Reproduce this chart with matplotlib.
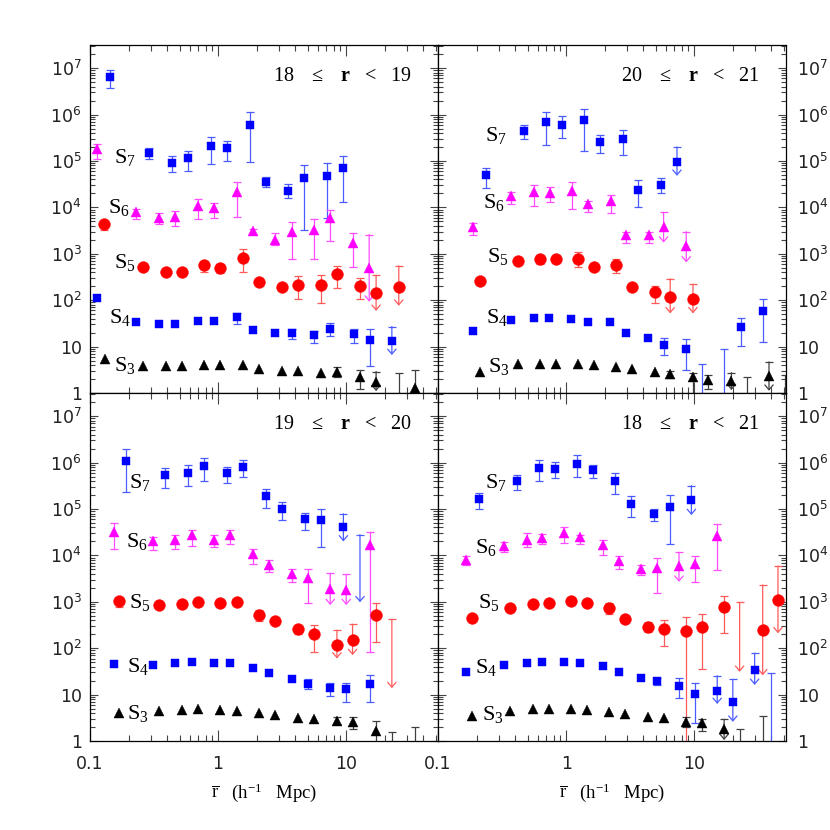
import numpy as np
import matplotlib as mpl
mpl.use('Agg')
import matplotlib.pyplot as plt
import matplotlib.ticker as ticker

N = float('nan')

######################
## data: S_n vs rbar, one block per magnitude slice
## hi/lo are error bar ends, lim = indexes of upper limits
######################

# 18 <= r < 19
s7_1819_x = [0.143, 0.289, 0.44, 0.58, 0.88, 1.18, 1.76, 2.35, 3.52, 4.72, 7.1, 9.5]
s7_1819_y = [6.3e6, 1.48e5, 9.1e4, 1.15e5, 2.1e5, 1.86e5, 6.0e5, 3.6e4, 2.3e4, 4.4e4, 4.8e4, 6.9e4]
s7_1819_hi = [9.1e6, 1.86e5, 1.29e5, 1.66e5, 3.3e5, 2.75e5, 1.12e6, 4.6e4, 3.2e4, 8.3e4, 9.1e4, 1.29e5]
s7_1819_lo = [3.7e6, 1.1e5, 5.8e4, 6.0e4, 8.7e4, 9.8e4, 9.5e4, 2.8e4, 1.6e4, 3.2e3, 5.9e3, 1.29e4]
s7_1819_lim = []

s6_1819_x = [0.114, 0.229, 0.346, 0.461, 0.694, 0.93, 1.40, 1.875, 2.80, 3.77, 5.62, 7.5, 11.3, 15.1]
s6_1819_y = [1.78e5, 7.9e3, 6.0e3, 6.3e3, 1.07e4, 9.8e3, 2.2e4, 3.1e3, 2.0e3, 3.0e3, 3.3e3, 5.9e3, 1.74e3, 5.0e2]
s6_1819_hi = [2.3e5, 9.3e3, 7.6e3, 8.5e3, 1.48e4, 1.26e4, 3.6e4, 3.5e3, 2.75e3, 4.9e3, 5.5e3, 8.7e3, 2.75e3, 2.6e3]
s6_1819_lo = [1.1e5, 5.6e3, 4.4e3, 3.9e3, 5.6e3, 5.9e3, 6.3e3, 2.7e3, 1.55e3, 7.6e2, 7.9e2, 1.9e3, 5.2e2, 93]
s6_1819_lim = [13]

s5_1819_x = [0.129, 0.26, 0.39, 0.52, 0.777, 1.04, 1.57, 2.09, 3.16, 4.22, 6.34, 8.46, 12.8, 17.1, 25.7]
s5_1819_y = [4.4e3, 525, 410, 410, 575, 500, 830, 250, 195, 215, 215, 365, 205, 140, 195]
s5_1819_hi = [5.2e3, N, N, N, 675, 615, 1.26e3, N, N, 325, 345, 550, 300, 345, 550]
s5_1819_lo = [3.2e3, N, N, N, 410, 380, 400, N, N, 105, 89, 180, 105, 59, 76]
s5_1819_lim = [13, 14]

s4_1819_x = [0.114, 0.23, 0.346, 0.461, 0.70, 0.93, 1.40, 1.87, 2.80, 3.77, 5.64, 7.5, 11.4, 15.2, 22.7]
s4_1819_y = [110, 34.5, 31, 30, 36, 35, 43, 23, 19.4, 19.4, 17.5, 24.3, 18.3, 14, 13.2]
s4_1819_hi = [N, N, N, N, N, N, 54, N, N, 24.5, 22, 33, 24, 24, 27]
s4_1819_lo = [N, N, N, N, N, N, 31, N, N, 14.5, 12, 17, 11.7, 3.8, 6.6]
s4_1819_lim = [14]

s3_1819_x = [0.13, 0.26, 0.39, 0.52, 0.777, 1.04, 1.57, 2.09, 3.16, 4.22, 6.34, 8.46, 12.8, 17.1, 25.7, 34.4]
s3_1819_y = [5.3, 3.9, 3.8, 3.9, 4.0, 4.0, 4.0, 3.3, 3.0, 3.0, 2.75, 2.9, 2.25, 1.75, N, 1.3]
s3_1819_hi = [N, N, N, N, N, N, N, N, N, N, N, 3.55, 3.16, 2.9, 2.75, 3.2]
s3_1819_lo = [N, N, N, N, N, N, N, N, N, N, N, 2.24, 1.22, 1.1, 0.5, 0.5]
s3_1819_lim = [13]

# 20 <= r < 21
s7_2021_x = [0.237, 0.472, 0.70, 0.935, 1.39, 1.85, 2.76, 3.67, 5.5, 7.33]
s7_2021_y = [5.0e4, 4.5e5, 6.8e5, 6.0e5, 7.6e5, 2.6e5, 3.0e5, 2.4e4, 3.1e4, 9.5e4]
s7_2021_hi = [7.2e4, 6.0e5, 1.15e6, 9.1e5, 1.35e6, 3.7e5, 4.7e5, 3.9e4, 4.3e4, 2.0e5]
s7_2021_lo = [2.6e4, 3.0e5, 2.2e5, 3.2e5, 1.66e5, 1.48e5, 1.35e5, 1.0e4, 2.0e4, 4.8e4]
s7_2021_lim = [9]

s6_2021_x = [0.1875, 0.374, 0.56, 0.746, 1.11, 1.48, 2.22, 2.94, 4.40, 5.76, 8.66]
s6_2021_y = [3.7e3, 1.78e4, 2.2e4, 2.0e4, 2.3e4, 1.17e4, 1.38e4, 2.6e3, 2.6e3, 3.8e3, 1.48e3]
s6_2021_hi = [4.7e3, 2.1e4, 3.0e4, 2.7e4, 3.5e4, 1.38e4, 1.86e4, 3.0e3, 3.0e3, 7.8e3, 3.0e3]
s6_2021_lo = [2.6e3, 1.17e4, 1.05e4, 1.29e4, 9.1e3, 7.8e3, 7.4e3, 1.7e3, 1.7e3, 1.74e3, 650]
s6_2021_lim = [9, 10]

s5_2021_x = [0.212, 0.42, 0.62, 0.83, 1.24, 1.64, 2.47, 3.28, 4.93, 6.49, 9.77]
s5_2021_y = [265, 710, 760, 760, 780, 525, 560, 190, 148, 120, 107]
s5_2021_hi = [N, N, 930, N, 1.12e3, N, 760, N, 205, 290, 220]
s5_2021_lo = [N, N, 590, N, 525, N, 380, N, 85, 52, 52]
s5_2021_lim = [9, 10]

s4_2021_x = [0.1875, 0.374, 0.56, 0.74, 1.10, 1.48, 2.21, 2.94, 4.38, 5.84, 8.66, 11.5, 17.1, 23, 34.4]
s4_2021_y = [22, 38, 40.7, 40.7, 40, 34, 34.5, 19.4, 15, 10.8, 8.7, N, N, 26, 59]
s4_2021_hi = [N, N, N, N, N, N, N, N, N, 15, 14.5, 4.2, 8.9, 41, 107]
s4_2021_lo = [N, N, N, N, N, N, N, N, N, 6.6, 3.2, 0.5, 0.5, 10.5, 12.3]
s4_2021_lim = []

s3_2021_x = [0.212, 0.42, 0.62, 0.83, 1.24, 1.64, 2.47, 3.28, 4.93, 6.49, 9.77, 12.9, 19.5, 25.7, 38.3, 50.7]
s3_2021_y = [2.9, 4.2, 4.2, 4.3, 4.2, 3.95, 3.7, 3.24, 2.8, 2.57, 2.2, 1.9, 1.8, N, 2.3, N]
s3_2021_hi = [N, N, N, N, N, N, N, N, N, 2.95, 2.75, 2.5, 2.75, 2.18, 4.7, 2.45]
s3_2021_lo = [N, N, N, N, N, N, N, N, N, 2.1, 0.5, 1.23, 1.16, 0.5, 1.12, 0.5]
s3_2021_lim = [12, 14]

# 19 <= r < 20
s7_1920_x = [0.192, 0.387, 0.583, 0.777, 1.175, 1.57, 2.35, 3.14, 4.76, 6.34, 9.5, 12.8]
s7_1920_y = [1.07e6, 5.4e5, 6.0e5, 8.3e5, 6.0e5, 8.0e5, 1.9e5, 9.8e4, 6.0e4, 5.8e4, 4.0e4, N]
s7_1920_hi = [1.95e6, 7.8e5, 8.7e5, 1.26e6, 8.1e5, 1.15e6, 2.75e5, 1.45e5, 8.3e4, 9.8e4, 7.9e4, 2.8e4]
s7_1920_lo = [2.3e5, 2.8e5, 3.2e5, 4.1e5, 3.6e5, 4.8e5, 1.05e5, 5.8e4, 3.5e4, 1.5e4, 2.0e4, 980]
s7_1920_lim = [10, 11]

s6_1920_x = [0.154, 0.308, 0.461, 0.62, 0.93, 1.24, 1.87, 2.5, 3.77, 5.0, 7.5, 10.0, 15.2]
s6_1920_y = [3.2e4, 2.0e4, 2.1e4, 2.75e4, 2.2e4, 2.75e4, 1.05e4, 6.2e3, 4.0e3, 3.2e3, 1.9e3, 1.8e3, 1.66e4]
s6_1920_hi = [4.9e4, 2.45e4, 2.8e4, 3.6e4, 2.8e4, 3.5e4, 1.35e4, 7.8e3, 5.1e3, 5.1e3, 4.1e3, 3.9e3, 3.2e4]
s6_1920_lo = [1.35e4, 1.29e4, 1.38e4, 1.62e4, 1.5e4, 1.78e4, 6.5e3, 4.4e3, 2.7e3, 930, 850, 850, 83]
s6_1920_lim = [10, 11]

s5_1920_x = [0.169, 0.346, 0.52, 0.70, 1.04, 1.40, 2.09, 2.80, 4.22, 5.62, 8.46, 11.2, 17.1, 22.7]
s5_1920_y = [1.05e3, 850, 890, 1.0e3, 930, 1.0e3, 525, 390, 257, 200, 120, 151, 525, N]
s5_1920_hi = [1.29e3, N, N, N, N, N, 660, N, 316, 316, 245, 330, 930, 420]
s5_1920_lo = [760, N, N, N, N, N, 390, N, 205, 81, 60, 71, 138, 13.8]
s5_1920_lim = [10, 11, 13]

s4_1920_x = [0.154, 0.308, 0.461, 0.62, 0.93, 1.24, 1.87, 2.49, 3.77, 5.0, 7.5, 10.0, 15.2]
s4_1920_y = [46, 44, 48, 50, 49, 49, 37, 29, 21.4, 17, 13.7, 13, 16.6]
s4_1920_hi = [N, N, N, N, N, N, N, N, N, 21.4, 18.2, 18.2, 27]
s4_1920_lo = [N, N, N, N, N, N, N, N, N, 12.9, 9.3, 6.9, 6.9]
s4_1920_lim = []

s3_1920_x = [0.169, 0.346, 0.52, 0.70, 1.04, 1.40, 2.09, 2.80, 4.22, 5.62, 8.46, 11.2, 17.1, 22.7, 34.7]
s3_1920_y = [4.07, 4.4, 4.6, 4.8, 4.7, 4.4, 3.95, 3.63, 3.18, 3.0, 2.7, 2.6, 1.67, N, N]
s3_1920_hi = [N, N, N, N, N, N, N, N, N, N, 3.25, 3.3, 2.7, 1.54, 2.0]
s3_1920_lo = [N, N, N, N, N, N, N, N, N, N, 2.3, 1.86, 0.5, 0.5, 0.5]
s3_1920_lim = []

# 18 <= r < 21
s7_1821_x = [0.208, 0.412, 0.616, 0.824, 1.22, 1.62, 2.42, 3.22, 4.83, 6.43, 9.5]
s7_1821_y = [1.62e5, 4.1e5, 7.6e5, 7.2e5, 9.5e5, 6.9e5, 4.0e5, 1.29e5, 7.8e4, 1.1e5, 1.55e5]
s7_1821_hi = [2.2e5, 5.5e5, 1.12e6, 1.02e6, 1.45e6, 9.1e5, 5.9e5, 1.95e5, 1.0e5, 2.0e5, 3.2e5]
s7_1821_lo = [1.02e5, 2.6e5, 4.0e5, 4.7e5, 5.0e5, 4.7e5, 2.1e5, 6.8e4, 5.4e4, 1.8e4, 7.4e4]
s7_1821_lim = [10]

s6_1821_x = [0.165, 0.328, 0.494, 0.654, 0.97, 1.29, 1.93, 2.58, 3.81, 5.1, 7.6, 10.2, 15.1]
s6_1821_y = [7.8e3, 1.58e4, 2.2e4, 2.4e4, 3.0e4, 2.5e4, 1.66e4, 7.4e3, 5.0e3, 5.4e3, 5.8e3, 6.5e3, 2.6e4]
s6_1821_hi = [9.8e3, 1.9e4, 3.1e4, 2.9e4, 4.0e4, 2.8e4, 2.2e4, 9.8e3, 6.2e3, 8.9e3, 1.17e4, 9.8e3, 4.7e4]
s6_1821_lo = [6.2e3, 1.2e4, 1.55e4, 1.78e4, 1.86e4, 1.74e4, 1.02e4, 5.1e3, 3.8e3, 1.58e3, 2.7e3, 2.7e3, 4.9e3]
s6_1821_lim = [10]

s5_1821_x = [0.185, 0.368, 0.553, 0.73, 1.09, 1.45, 2.18, 2.87, 4.35, 5.77, 8.6, 11.4, 17.1, 22.6, 34.2, 45]
s5_1821_y = [440, 720, 890, 950, 1.05e3, 930, 720, 425, 290, 257, 235, 290, 760, N, 245, 1.1e3]
s5_1821_hi = [N, N, N, N, N, N, 930, N, 365, 415, 470, 560, 1.35e3, 980, 2.3e3, 5.9e3]
s5_1821_lo = [N, N, N, N, N, N, 550, N, 220, 112, 0.5, 35, 210, 31, 26, 210]
s5_1821_lim = [13, 14, 15]

s4_1821_x = [0.165, 0.328, 0.494, 0.654, 0.97, 1.29, 1.93, 2.58, 3.81, 5.1, 7.55, 10.2, 15.1, 20.0, 29.6, 39.8]
s4_1821_y = [31, 43, 49, 50, 51, 49, 41, 31, 22.5, 19.6, 15.3, 10.3, 12.1, 7.0, 34, N]
s4_1821_hi = [N, N, N, N, N, N, N, N, N, 22.4, 22.4, 17.4, 25.5, 21.4, 78, 29.5]
s4_1821_lo = [N, N, N, N, N, N, N, N, N, 16.2, 8.3, 2.4, 6.3, 2.6, 16.2, 0.5]
s4_1821_lim = [12, 13, 14]

s3_1821_x = [0.185, 0.368, 0.553, 0.73, 1.09, 1.45, 2.18, 2.87, 4.35, 5.77, 8.6, 11.4, 17.1, 22.6, 34.2]
s3_1821_y = [3.45, 4.5, 4.8, 4.8, 4.8, 4.7, 4.15, 3.8, 3.34, 3.09, 2.6, 2.4, 1.8, N, N]
s3_1821_hi = [N, N, N, N, N, N, N, N, N, N, 3.3, 2.95, 2.95, 1.78, 3.45]
s3_1821_lo = [N, N, N, N, N, N, N, N, N, N, 2.04, 1.66, 1.05, 0.5, 0.5]
s3_1821_lim = [12]

######################
## setup matplotlib
######################

plt.rcParams['font.family'] = 'DejaVu Sans'
plt.rcParams['mathtext.fontset'] = 'custom'
plt.rcParams['mathtext.rm'] = 'Liberation Serif'
plt.rcParams['mathtext.it'] = 'Liberation Serif:italic'
plt.rcParams['mathtext.bf'] = 'Liberation Serif:bold'
plt.rcParams['mathtext.sf'] = 'DejaVu Sans'

# series styles: (color, error bar color, marker, size)
styles = {
    's7': ('#0000ff', '#4a5cff', 's', 6.0),
    's6': ('#ff00ff', '#ff4cff', '^', 7.0),
    's5': ('#ff0000', '#ff5a5a', 'o', 8.5),
    's4': ('#0000ff', '#4a5cff', 's', 6.0),
    's3': ('#000000', '#404040', '^', 7.0),
}


def series(ax, x, y, lo, hi, lim, key):
    color, ecolor, marker, ms = styles[key]
    x = np.array(x, float)
    y = np.array(y, float)
    lo = np.array(lo, float)
    hi = np.array(hi, float)
    bar = ~np.isnan(hi)
    islim = np.zeros(len(x), bool)
    islim[np.array(lim, dtype=int)] = True
    plain = bar & ~islim
    ax.vlines(x[plain], lo[plain], hi[plain], color=ecolor, lw=0.9, zorder=2)
    ax.plot(x[bar], hi[bar], ls='none', marker='_', ms=5.5, mew=0.9, color=ecolor, zorder=2)
    ax.plot(x[plain], lo[plain], ls='none', marker='_', ms=5.5, mew=0.9, color=ecolor, zorder=2)
    for i in np.where(islim)[0]:
        ax.annotate('', xy=(x[i], lo[i]), xytext=(x[i], hi[i]),
                    arrowprops=dict(arrowstyle='->,head_length=0.35,head_width=0.3',
                                    color=ecolor, lw=0.9, shrinkA=0, shrinkB=0),
                    zorder=2)
    ax.plot(x, y, ls='none', marker=marker, ms=ms, color=color, mec=color, mew=0.3, zorder=3)


def yfmt(v, pos):
    if v < 5:
        return '1'
    if v < 50:
        return '10'
    return r'$\mathsf{10^{%d}}$' % int(round(np.log10(v)))


fig = plt.figure(figsize=(8.3, 8.3), dpi=100)
W = 0.4193
axes = {
    '1819': fig.add_axes([0.1084, 0.5265, W, W]),
    '2021': fig.add_axes([0.5277, 0.5265, W, W]),
    '1920': fig.add_axes([0.1084, 0.1072, W, W]),
    '1821': fig.add_axes([0.5277, 0.1072, W, W]),
}
titles = {'1819': ('18', '19'), '2021': ('20', '21'), '1920': ('19', '20'), '1821': ('18', '21')}

# S_n label spots (axes fraction), per panel
label_pos = {
    '1819': [(0.10, 0.678), (0.083, 0.532), (0.10, 0.374), (0.086, 0.216), (0.10, 0.08)],
    '2021': [(0.167, 0.741), (0.161, 0.546), (0.172, 0.391), (0.17, 0.216), (0.175, 0.075)],
    '1920': [(0.144, 0.744), (0.135, 0.572), (0.144, 0.397), (0.138, 0.213), (0.138, 0.08)],
    '1821': [(0.167, 0.744), (0.138, 0.557), (0.147, 0.397), (0.138, 0.21), (0.158, 0.075)],
}

g = globals()
for tag, ax in axes.items():
    ax.set_xscale('log')
    ax.set_yscale('log')
    for key in ['s7', 's6', 's5', 's4', 's3']:
        p = key + '_' + tag
        series(ax, g[p + '_x'], g[p + '_y'], g[p + '_lo'], g[p + '_hi'], g[p + '_lim'], key)
    ax.set_xlim(0.1, 52)
    ax.set_ylim(1, 10 ** 7.5)

    ax.xaxis.set_major_locator(ticker.FixedLocator([0.1, 1, 10]))
    ax.xaxis.set_minor_locator(ticker.LogLocator(subs=np.arange(2, 10), numticks=20))
    ax.xaxis.set_major_formatter(ticker.FixedFormatter(['0.1', '1', '10']))
    ax.xaxis.set_minor_formatter(ticker.NullFormatter())
    ax.yaxis.set_major_locator(ticker.FixedLocator([10.0 ** k for k in range(8)]))
    ax.yaxis.set_minor_locator(ticker.LogLocator(subs=np.arange(2, 10), numticks=20))
    ax.yaxis.set_major_formatter(ticker.FuncFormatter(yfmt))
    ax.yaxis.set_minor_formatter(ticker.NullFormatter())

    ax.tick_params(which='both', direction='in', top=True, right=True,
                   color='#444444', width=0.8, labelsize=12.5, labelcolor='#222222')
    ax.tick_params(axis='x', which='major', length=8, pad=10)
    ax.tick_params(axis='x', which='minor', length=4.5)
    ax.tick_params(axis='y', which='major', length=5.5, pad=6)
    ax.tick_params(axis='y', which='minor', length=3.5)
    for s in ax.spines.values():
        s.set_linewidth(0.9)

    if tag in ('1819', '2021'):
        ax.tick_params(labelbottom=False)
    else:
        ax.set_xlabel(r'$\overline{\mathrm{r}}$   (h$^{-1}$   Mpc)', fontsize=13.5,
                      family='Liberation Serif', labelpad=6)
    if tag in ('2021', '1821'):
        ax.tick_params(labelleft=False, labelright=True)
        ax.tick_params(axis='y', which='major', pad=8)

    a, b = titles[tag]
    ax.text(0.925, 0.909, a + r'   $\leq$   $\mathbf{r}$   <   ' + b, transform=ax.transAxes,
            ha='right', va='center', fontsize=14.5, family='Liberation Serif')
    for (tx, ty), n in zip(label_pos[tag], [7, 6, 5, 4, 3]):
        ax.text(tx, ty, r'$\mathrm{S}_{%d}$' % n, transform=ax.transAxes,
                ha='center', va='center', fontsize=16)

plt.savefig('out.png', dpi=100)
